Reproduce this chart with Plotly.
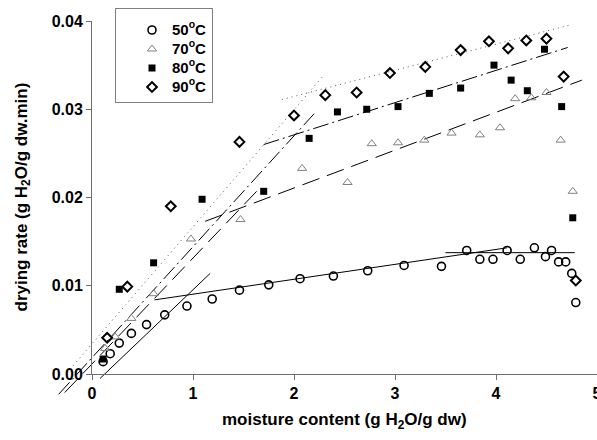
import plotly.graph_objects as go

# ---- data ----
x50 = [0.11, 0.18, 0.27, 0.39, 0.54, 0.72, 0.94, 1.19, 1.46, 1.75, 2.06, 2.39, 2.73, 3.09, 3.46,
       3.71, 3.84, 3.97, 4.11, 4.24, 4.38, 4.49, 4.55, 4.62, 4.69, 4.75, 4.79]
y50 = [0.0014, 0.0023, 0.0035, 0.0046, 0.0056, 0.0067, 0.0077, 0.0085, 0.0095, 0.0101, 0.0108,
       0.0111, 0.0117, 0.0123, 0.0122, 0.0140, 0.0130, 0.0130, 0.0140, 0.0130, 0.0143, 0.0133,
       0.0140, 0.0127, 0.0127, 0.0114, 0.0081]

x70 = [0.13, 0.23, 0.39, 0.61, 0.98, 1.47, 2.08, 2.53, 2.77, 3.03, 3.29, 3.56, 3.84, 4.04, 4.19,
       4.35, 4.50, 4.64, 4.76]
y70 = [0.0029, 0.0042, 0.0063, 0.0091, 0.0153, 0.0175, 0.0233, 0.0217, 0.0261, 0.0262, 0.0265,
       0.0273, 0.0271, 0.0279, 0.0312, 0.0313, 0.0319, 0.0265, 0.0207]

x80 = [0.11, 0.27, 0.61, 1.09, 1.70, 2.15, 2.43, 2.72, 3.03, 3.34, 3.65, 3.98, 4.15, 4.31, 4.48,
       4.65, 4.76]
y80 = [0.0017, 0.0096, 0.0126, 0.0198, 0.0207, 0.0267, 0.0297, 0.0300, 0.0303, 0.0318, 0.0324,
       0.0350, 0.0333, 0.0321, 0.0368, 0.0303, 0.0177]

x90 = [0.15, 0.35, 0.78, 1.46, 2.00, 2.31, 2.62, 2.95, 3.30, 3.65, 3.93, 4.12, 4.30, 4.50, 4.67, 4.79]
y90 = [0.0041, 0.0099, 0.0190, 0.0263, 0.0293, 0.0316, 0.0319, 0.0341, 0.0348, 0.0367, 0.0377,
       0.0369, 0.0378, 0.0380, 0.0337, 0.0106]

# fitted line segments (end points)
fit50_steep_x = [0.08, 1.17]
fit50_steep_y = [-0.0005, 0.0114]
fit50_a_x = [0.62, 4.11]
fit50_a_y = [0.0084, 0.0143]
fit50_b_x = [3.50, 4.78]
fit50_b_y = [0.01375, 0.01375]
fit70_steep_x = [-0.27, 1.63]
fit70_steep_y = [-0.0021, 0.0207]
fit70_flat_x = [1.12, 4.85]
fit70_flat_y = [0.0173, 0.0333]
fit80_steep_x = [-0.33, 2.20]
fit80_steep_y = [-0.0023, 0.0295]
fit80_flat_x = [1.70, 4.71]
fit80_flat_y = [0.0260, 0.0370]
fit90_steep_x = [-0.22, 2.29]
fit90_steep_y = [0.0005, 0.0338]
fit90_flat_x = [1.88, 4.75]
fit90_flat_y = [0.0311, 0.0396]

x_ticks = [0, 1, 2, 3, 4, 5]
y_ticks = [0.00, 0.01, 0.02, 0.03, 0.04]
y_tick_labels = ["0.00", "0.01", "0.02", "0.03", "0.04"]

names = ["50<sup>o</sup>C", "70<sup>o</sup>C", "80<sup>o</sup>C", "90<sup>o</sup>C"]
x_title = "moisture content (g H<sub>2</sub>O/g dw)"
y_title = "drying rate (g H<sub>2</sub>O/g dw.min)"

# ---- layout geometry ----
W, H = 597, 440
ax_left, ax_right = 92, 597      # pixel of x=0 and x=5
ax_bottom, ax_top = 374, 21      # pixel of y=0 and y=0.04
xpp = 5.0 / (ax_right - ax_left)
ypp = 0.04 / (ax_bottom - ax_top)
x_full = [-ax_left * xpp, 5.0 + (W - ax_right) * xpp]
y_full = [-(H - ax_bottom) * ypp, 0.04 + ax_top * ypp]

FONT = "Liberation Sans, Arial, sans-serif"

fig = go.Figure()

fits = [
    (fit50_steep_x, fit50_steep_y, dict(color="black", width=1)),
    (fit50_a_x, fit50_a_y, dict(color="black", width=1)),
    (fit50_b_x, fit50_b_y, dict(color="black", width=1)),
    (fit70_steep_x, fit70_steep_y, dict(color="black", width=1, dash="18px,8px")),
    (fit70_flat_x, fit70_flat_y, dict(color="black", width=1, dash="18px,8px")),
    (fit80_steep_x, fit80_steep_y, dict(color="black", width=1, dash="16px,4px,2px,4px")),
    (fit80_flat_x, fit80_flat_y, dict(color="black", width=1, dash="16px,4px,2px,4px")),
    (fit90_steep_x, fit90_steep_y, dict(color="#555555", width=1, dash="1px,4px")),
    (fit90_flat_x, fit90_flat_y, dict(color="#555555", width=1, dash="1px,4px")),
]
for fx, fy, ln in fits:
    fig.add_trace(go.Scatter(x=fx, y=fy, mode="lines", line=ln, showlegend=False,
                             hoverinfo="skip", xaxis="x", yaxis="y"))

fig.add_trace(go.Scatter(x=x50, y=y50, mode="markers",
                         name='<span style="font-size:15px">' + names[0] + '</span>',
                         marker=dict(symbol="circle-open", size=8, color="black",
                                     line=dict(width=1.6, color="black")),
                         xaxis="x", yaxis="y"))
fig.add_trace(go.Scatter(x=x70, y=y70, mode="markers",
                         name='<span style="font-size:15px">' + names[1] + '</span>',
                         marker=dict(symbol="triangle-up-open", size=8, color="#808080",
                                     line=dict(width=1, color="#808080")),
                         xaxis="x", yaxis="y"))
fig.add_trace(go.Scatter(x=x80, y=y80, mode="markers",
                         name='<span style="font-size:15px">' + names[2] + '</span>',
                         marker=dict(symbol="square", size=7, color="black",
                                     line=dict(width=0)),
                         xaxis="x", yaxis="y"))
fig.add_trace(go.Scatter(x=x90, y=y90, mode="markers",
                         name='<span style="font-size:15px">' + names[3] + '</span>',
                         marker=dict(symbol="diamond-open", size=7.5, color="black",
                                     line=dict(width=2, color="black")),
                         xaxis="x", yaxis="y"))

# empty trace to create the visible axes subplot
fig.add_trace(go.Scatter(x=[], y=[], xaxis="x2", yaxis="y2", showlegend=False,
                         hoverinfo="skip"))

axis_color = "#6e6e6e"
fig.update_layout(
    width=W, height=H,
    margin=dict(l=0, r=0, t=0, b=0, pad=0, autoexpand=False),
    paper_bgcolor="white", plot_bgcolor="rgba(0,0,0,0)",
    font=dict(family=FONT, color="black"),
    xaxis=dict(domain=[0, 1], range=x_full, visible=False, anchor="y", automargin=False),
    yaxis=dict(domain=[0, 1], range=y_full, visible=False, anchor="x", automargin=False),
    xaxis2=dict(domain=[ax_left / W, ax_right / W], range=[0, 5], anchor="y2",
                automargin=False, ticklabeloverflow="allow",
                showline=True, linecolor=axis_color, linewidth=1, mirror=False,
                ticks="outside", ticklen=5, tickcolor=axis_color, tickwidth=1,
                tickvals=x_ticks, ticktext=[str(v) for v in x_ticks],
                tickfont=dict(family=FONT, size=16, weight="bold"),
                showgrid=False, zeroline=False),
    yaxis2=dict(domain=[1 - ax_bottom / H, 1 - ax_top / H], range=[0, 0.04], anchor="x2",
                automargin=False, ticklabeloverflow="allow",
                showline=True, linecolor=axis_color, linewidth=1, mirror=False,
                ticks="outside", ticklen=5, tickcolor=axis_color, tickwidth=1,
                tickvals=y_ticks, ticktext=y_tick_labels,
                tickfont=dict(family=FONT, size=16, weight="bold"),
                showgrid=False, zeroline=False),
    legend=dict(x=115 / W, y=1 - 8 / H, xanchor="left", yanchor="top",
                bordercolor="#808080", borderwidth=1, bgcolor="white", indentation=16,
                title=dict(text="\u00a0", font=dict(size=5)),
                font=dict(family=FONT, size=12, weight="bold")),
    showlegend=True,
    annotations=[
        dict(text=x_title, xref="paper", yref="paper",
             x=(ax_left + ax_right) / 2 / W, y=1 - 421 / H, xanchor="center", yanchor="middle",
             showarrow=False, font=dict(family=FONT, size=17, weight="bold")),
        dict(text=y_title, xref="paper", yref="paper", textangle=-90,
             x=22 / W, y=1 - (ax_bottom + ax_top) / 2 / H, xanchor="center", yanchor="middle",
             showarrow=False, font=dict(family=FONT, size=17, weight="bold")),
    ],
)

fig.write_html("out.html", config={"displayModeBar": False},
               post_script="document.body.style.margin='0';document.body.style.overflow='hidden';")
